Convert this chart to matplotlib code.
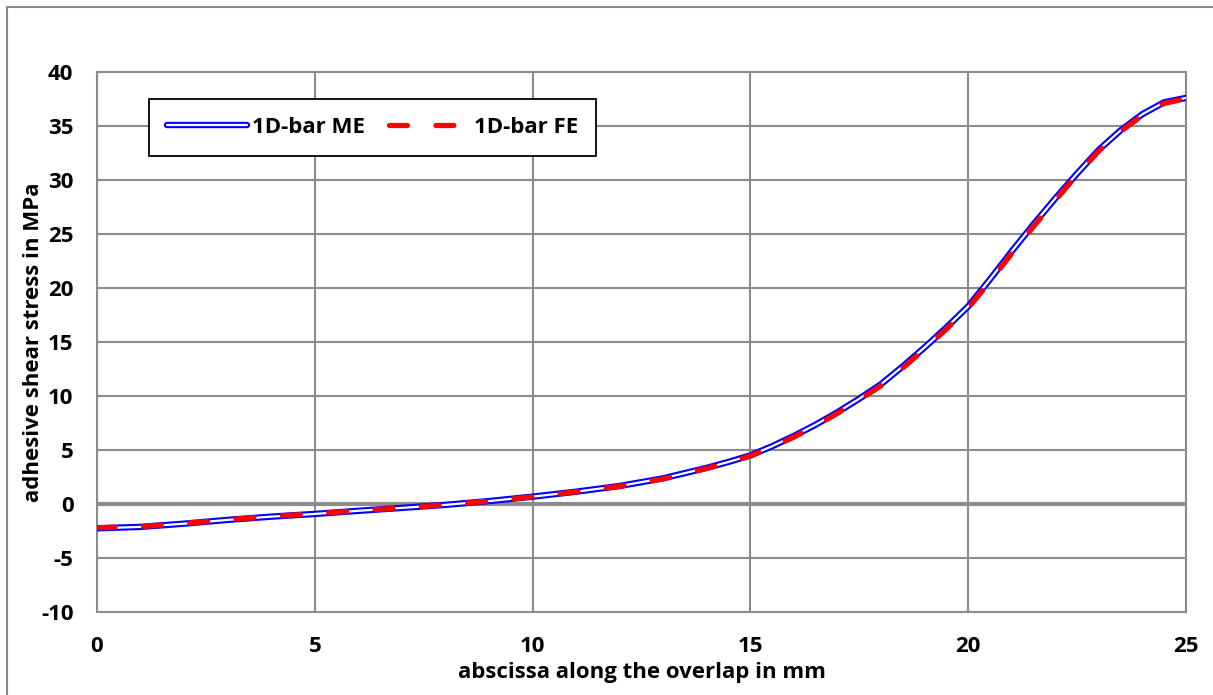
import matplotlib
matplotlib.use("Agg")
import matplotlib.pyplot as plt
from matplotlib.patches import Rectangle

# overlap position in mm and adhesive shear stress in MPa
x_mm = [0, 1, 2, 3, 4, 5, 6, 7, 8, 9, 10, 11, 12, 13, 14, 14.5, 15, 15.5, 16, 16.5,
        17, 17.5, 18, 18.5, 19, 19.5, 20, 20.5, 21, 21.5, 22, 22.5, 23, 23.5, 24, 24.5, 25]
tau_me = [-2.25, -2.12, -1.82, -1.47, -1.17, -0.92, -0.63, -0.36, -0.08, 0.27, 0.68, 1.14,
          1.67, 2.38, 3.35, 3.9, 4.5, 5.35, 6.3, 7.35, 8.5, 9.75, 11.1, 12.75, 14.5, 16.35,
          18.3, 20.8, 23.4, 25.9, 28.3, 30.6, 32.8, 34.6, 36.1, 37.2, 37.6]
tau_fe = [-2.2, -2.08, -1.8, -1.45, -1.15, -0.9, -0.62, -0.36, -0.08, 0.26, 0.66, 1.12,
          1.64, 2.33, 3.3, 3.85, 4.45, 5.27, 6.2, 7.25, 8.4, 9.65, 10.95, 12.6, 14.35, 16.2,
          18.15, 20.6, 23.2, 25.7, 28.1, 30.5, 32.7, 34.5, 36.0, 37.1, 37.55]

x_ticks = [0, 5, 10, 15, 20, 25]
y_ticks = [-10, -5, 0, 5, 10, 15, 20, 25, 30, 35, 40]

plt.rcParams['font.family'] = ['Open Sans', 'DejaVu Sans']
plt.rcParams['font.weight'] = 'bold'
plt.rcParams['axes.unicode_minus'] = False

fig = plt.figure(figsize=(12.13, 6.95), dpi=100)
ax = fig.add_axes([97 / 1213, 1 - 612 / 695, (1186 - 97) / 1213, (612 - 72) / 695])

grid_c = '#8c8c8c'
ax.set_xlim(0, 25)
ax.set_ylim(-10, 40)
ax.set_xticks(x_ticks)
ax.set_yticks(y_ticks)
ax.grid(True, color=grid_c, linewidth=1.5)
ax.set_axisbelow(True)
ax.axhline(0, color=grid_c, linewidth=3, zorder=1)
for s in ax.spines.values():
    s.set_color(grid_c)
    s.set_linewidth(1.5)
ax.tick_params(axis='y', length=0, labelsize=16, pad=17)
ax.tick_params(axis='x', length=0, labelsize=16, pad=17)
for lab in ax.get_xticklabels() + ax.get_yticklabels():
    lab.set_fontweight('bold')

# double blue line: thick blue with white core
b1, = ax.plot(x_mm, tau_me, color='#0000ff', linewidth=4.6, solid_capstyle='round', zorder=3)
b2, = ax.plot(x_mm, tau_me, color='white', linewidth=1.6, solid_capstyle='round', zorder=4)
r1, = ax.plot(x_mm, tau_fe, color='#ff0000', linewidth=3.8, linestyle=(0, (3.4, 5.4)),
              dash_capstyle='round', zorder=5)

ax.set_xlabel('abscissa along the overlap in mm', fontsize=16, fontweight='bold')
ax.set_ylabel('adhesive shear stress in MPa', fontsize=16, fontweight='bold')
ax.xaxis.set_label_coords(0.5, -0.093)
ax.yaxis.set_label_coords(-0.049, 0.5)

leg = ax.legend([(b1, b2), r1], ['1D-bar ME', '1D-bar FE'], ncol=2, loc='upper left',
                bbox_to_anchor=(0.048, 0.95), borderaxespad=0, fancybox=False,
                edgecolor='black', framealpha=1, fontsize=16, handlelength=3.6,
                handletextpad=0.22, columnspacing=1.1, borderpad=0.8)
leg.get_frame().set_linewidth(1.3)
for t in leg.get_texts():
    t.set_fontweight('bold')

# outer chart border
fig.patches.append(Rectangle((7 / 1213, -0.05), 1.1, 1 - 7 / 695 + 0.05,
                             transform=fig.transFigure, fill=False,
                             edgecolor='#888888', linewidth=1.5))

fig.savefig('out.png', dpi=100)
